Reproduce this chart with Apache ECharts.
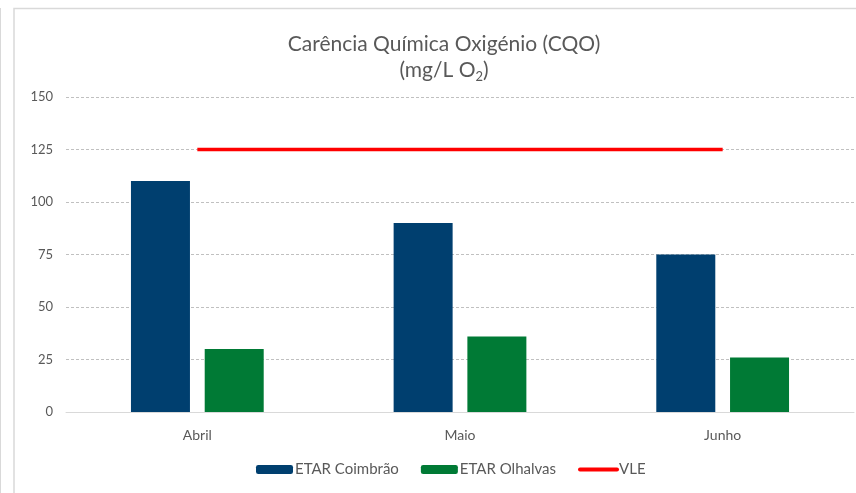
<!DOCTYPE html>
<html>
<head>
<meta charset="utf-8">
<script src="https://cdn.jsdelivr.net/npm/echarts@6/dist/echarts.min.js"></script>
<style>
  html, body { margin: 0; padding: 0; background: #fff; }
  #chart { width: 856px; height: 493px; }
</style>
</head>
<body>
<div id="chart"></div>
<script>
const months = ['Abril', 'Maio', 'Junho'];
const coimbra = [110, 90, 75];
const olhalvas = [30, 36, 26];
const vle = [125, 125, 125];

const FONT = 'Lato, "Open Sans", sans-serif';
const GREY = '#595959';

const chart = echarts.init(document.getElementById('chart'));
chart.setOption({
  animation: false,
  textStyle: { fontFamily: FONT },
  title: {
    text: '{a|Carência Química Oxigénio (CQO)}\n{a|(mg/L O}{s|2}{a|)}',
    left: 439, top: 26, textAlign: 'center',
    textStyle: {
      fontWeight: 'normal',
      rich: {
        a: { fontFamily: FONT, fontSize: 21, fontWeight: 'normal', color: GREY, lineHeight: 26 },
        s: { fontFamily: FONT, fontSize: 13, fontWeight: 'normal', color: GREY, lineHeight: 14, verticalAlign: 'bottom' }
      }
    }
  },
  legend: {
    bottom: 11, left: 251,
    itemWidth: 37, itemHeight: 9, itemGap: 22,
    textStyle: { color: GREY, fontSize: 15, fontFamily: FONT, padding: [0, 0, 0, -3] },
    data: [
      'ETAR Coimbrão',
      'ETAR Olhalvas',
      { name: 'VLE', itemStyle: { opacity: 0 }, lineStyle: { width: 4, cap: 'round' } }
    ]
  },
  grid: { left: 66, right: 2, top: 97, bottom: 81 },
  xAxis: {
    type: 'category', data: months,
    axisLine: { lineStyle: { color: '#d9d9d9', width: 1 } },
    axisTick: { show: false },
    axisLabel: { color: GREY, fontSize: 14, margin: 16 }
  },
  yAxis: {
    type: 'value', min: 0, max: 150, interval: 25,
    axisLine: { show: false },
    axisTick: { show: false },
    axisLabel: { color: GREY, fontSize: 13, margin: 13 },
    splitLine: { lineStyle: { color: '#c0c0c0', type: [3, 2], width: 1 } }
  },
  series: [
    {
      name: 'ETAR Coimbrão', type: 'bar', data: coimbra,
      barWidth: 59, barGap: '25%',
      itemStyle: { color: '#003f6f' }
    },
    {
      name: 'ETAR Olhalvas', type: 'bar', data: olhalvas,
      barWidth: 59,
      itemStyle: { color: '#007a35' }
    },
    {
      name: 'VLE', type: 'line', data: vle,
      symbol: 'none', showSymbol: false,
      lineStyle: { color: '#ff0000', width: 3.5 },
      itemStyle: { color: '#ff0000' }
    }
  ],
  graphic: [
    { type: 'rect', shape: { x: 14, y: 8.5, width: 900, height: 600 },
      style: { fill: 'none', stroke: '#d9d9d9', lineWidth: 1.5 }, silent: true },
    { type: 'line', shape: { x1: 0.5, y1: 8, x2: 0.5, y2: 493 },
      style: { stroke: '#d9d9d9', lineWidth: 1 }, silent: true }
  ]
});
</script>
</body>
</html>
